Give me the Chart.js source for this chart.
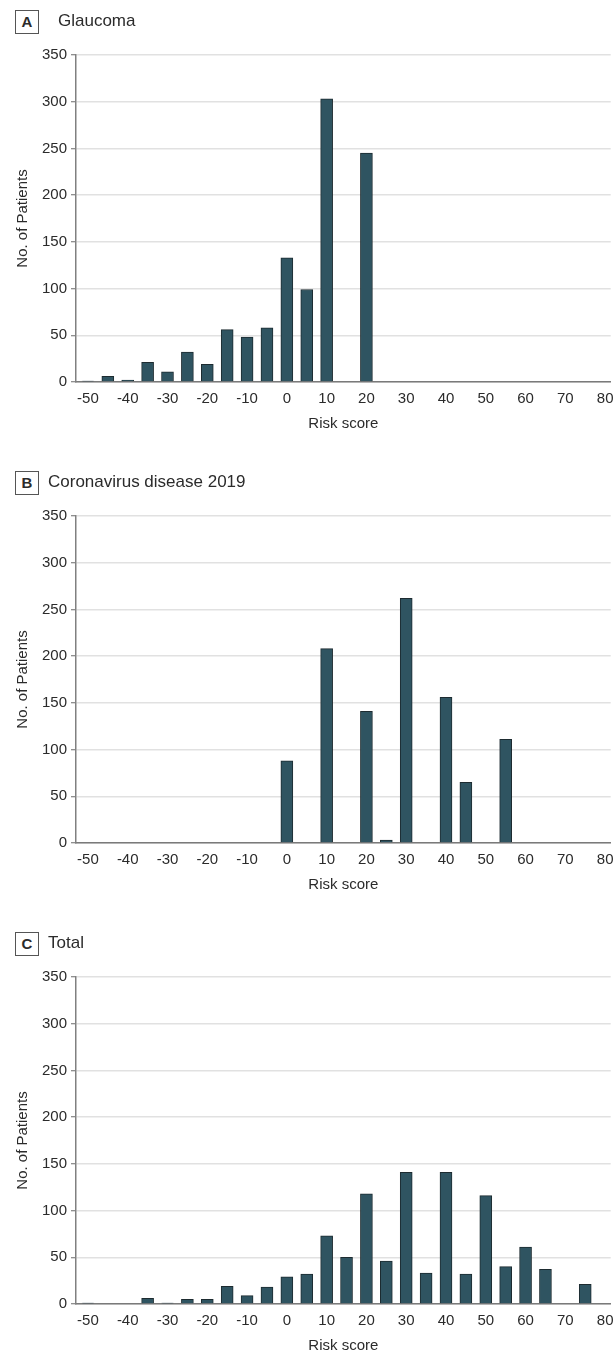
<!DOCTYPE html>
<html>
<head>
<meta charset="utf-8">
<script src="https://cdn.jsdelivr.net/npm/chart.js@4/dist/chart.umd.min.js"></script>
<style>
  html, body { margin: 0; padding: 0; background: #fff; }
  body { width: 615px; height: 1372px; position: relative; overflow: hidden;
         font-family: "Liberation Sans", Arial, sans-serif; color: #2b2b2b; }
  .panel { position: absolute; left: 0; width: 615px; }
  .panel canvas { position: absolute; left: 0; top: 0; }
  .tag { position: absolute; left: 15px; top: 10px; width: 22px; height: 22px;
         border: 1px solid #555; font-weight: bold; font-size: 15px;
         line-height: 22px; text-align: center; background: #fff; }
  .head { position: absolute; top: 10px; font-size: 17px; line-height: 22px; }
</style>
</head>
<body>
<div class="panel" id="pA" style="top:0;height:461px">
  <canvas id="cA" width="615" height="461"></canvas>
  <div class="tag">A</div><div class="head" style="left:58px">Glaucoma</div>
</div>
<div class="panel" id="pB" style="top:461px;height:461px">
  <canvas id="cB" width="615" height="461"></canvas>
  <div class="tag">B</div><div class="head" style="left:48px">Coronavirus disease 2019</div>
</div>
<div class="panel" id="pC" style="top:922px;height:450px">
  <canvas id="cC" width="615" height="450"></canvas>
  <div class="tag">C</div><div class="head" style="left:48px">Total</div>
</div>
<script>
// Risk score bins (centre of each bar)
const riskScores = [-50, -45, -40, -35, -30, -25, -20, -15, -10, -5, 0, 5, 10, 15, 20, 25, 30, 35, 40, 45, 50, 55, 60, 65, 70, 75];

// Number of patients per risk score bin
const glaucomaCounts = [1, 6, 2, 21, 11, 32, 19, 56, 48, 58, 133, 99, 303, 0, 245, 0, 0, 0, 0, 0, 0, 0, 0, 0, 0, 0];
const covidCounts    = [0, 0, 0, 0, 0, 0, 0, 0, 0, 0, 88, 0, 208, 0, 141, 3, 262, 0, 156, 65, 0, 111, 0, 0, 0, 0];
const totalCounts    = [1, 0, 0, 6, 1, 5, 5, 19, 9, 18, 29, 32, 73, 50, 118, 46, 141, 33, 141, 32, 116, 40, 61, 37, 0, 21];

// Axis ticks
const xTickValues = [-50, -40, -30, -20, -10, 0, 10, 20, 30, 40, 50, 60, 70, 80];
const yTickValues = [0, 50, 100, 150, 200, 250, 300, 350];

const FONT = '"Liberation Sans", Arial, sans-serif';
const TEXT = '#2b2b2b';

function makeChart(canvasId, counts, bottomPad) {
  const points = riskScores.map((s, i) => ({ x: s, y: counts[i] }));
  return new Chart(document.getElementById(canvasId), {
    type: 'bar',
    data: {
      datasets: [{
        data: points,
        backgroundColor: '#2f5461',
        borderColor: '#1d2b30',
        borderWidth: 1,
        barThickness: 12
      }]
    },
    options: {
      responsive: false,
      animation: false,
      devicePixelRatio: 1,
      layout: { padding: { top: 55, right: 4.3, bottom: bottomPad, left: 0 } },
      plugins: { legend: { display: false }, tooltip: { enabled: false } },
      scales: {
        x: {
          type: 'linear',
          offset: false,
          min: -53,
          max: 81.4,
          afterBuildTicks: s => { s.ticks = xTickValues.map(v => ({ value: v })); },
          afterFit: s => { s.height = 51; s.paddingLeft = 0; s.paddingRight = 0; },
          ticks: { font: { family: FONT, size: 15 }, color: TEXT, padding: 8,
                   maxRotation: 0, autoSkip: false },
          grid: { display: false, drawTicks: false, offset: false },
          border: { display: true, color: '#7a7a7a', width: 1.5 },
          title: { display: true, text: 'Risk score', color: TEXT,
                   font: { family: FONT, size: 15 }, padding: { top: 0, bottom: 0 } }
        },
        y: {
          min: 0,
          max: 350,
          afterBuildTicks: s => { s.ticks = yTickValues.map(v => ({ value: v })); },
          afterFit: s => { s.width = 76; s.paddingTop = 0; s.paddingBottom = 0; },
          ticks: { font: { family: FONT, size: 15 }, color: TEXT, padding: 4 },
          grid: { color: '#e1e1e1', lineWidth: 1.5, tickLength: 5, tickColor: '#6a6a6a', tickWidth: 1 },
          border: { display: true, color: '#808080', width: 1.5 },
          title: { display: true, text: 'No. of Patients', color: TEXT,
                   font: { family: FONT, size: 15 }, padding: { top: 14, bottom: 0 } }
        }
      }
    }
  });
}

makeChart('cA', glaucomaCounts, 28);
makeChart('cB', covidCounts, 28);
makeChart('cC', totalCounts, 17);
</script>
</body>
</html>
